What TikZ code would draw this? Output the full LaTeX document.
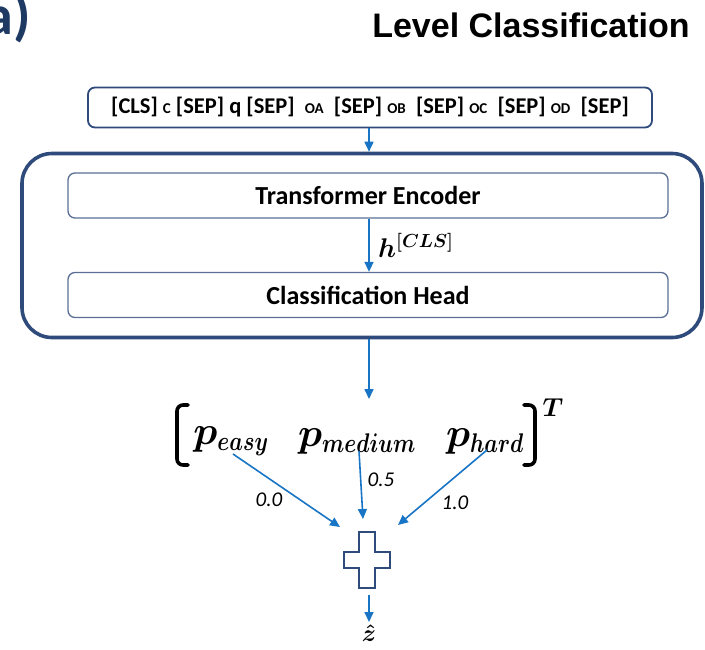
\RequirePackage{fix-cm}
\documentclass[tikz,border=0pt]{standalone}
\usepackage{fontspec}
\setmainfont{Carlito}
\newfontfamily\headfont{Liberation Sans}
\usepackage{amsmath,bm}
\usetikzlibrary{arrows.meta}

\definecolor{navy}{HTML}{2F4B7C}
\definecolor{deepnavy}{HTML}{1E3A62}
\definecolor{flow}{HTML}{1874C4}

\tikzset{
  tokenbox/.style={draw=navy, line width=1.8pt, rounded corners=7pt, fill=white,
    minimum width=564pt, minimum height=40pt, inner sep=0pt},
  modelbox/.style={draw=navy, line width=3.6pt, rounded corners=30pt,
    minimum width=680pt, minimum height=184pt, inner sep=0pt},
  layerbox/.style={draw=navy!80, line width=1.3pt, rounded corners=7pt, fill=white,
    minimum width=600pt, minimum height=45pt, inner sep=0pt,
    font=\fontsize{26}{30}\selectfont\bfseries},
  flowarrow/.style={draw=flow, line width=1.6pt, -{Triangle[length=10pt,width=9pt]}},
  weight/.style={font=\fontsize{21}{24}\selectfont\itshape, inner sep=0pt},
  prob/.style={inner sep=0pt, font=\fontsize{40}{44}\selectfont\boldmath},
}

% small-cap sized token letters and probability symbols
\newcommand{\tok}[1]{{\fontsize{15}{15}\selectfont #1}}
\newcommand{\pv}[1]{p_{\scalebox{0.8}[1]{\fontsize{27}{27}\selectfont\boldmath$#1$}}}

\begin{document}
\begin{tikzpicture}[x=1pt, y=-1pt]
\useasboundingbox (0,0) rectangle (705,649);
\clip (0,0) rectangle (705,649);

% panel tag and title
\node[anchor=base east, text=deepnavy, font=\fontsize{56}{60}\selectfont\bfseries, inner sep=0pt]
  (tag) at (31,34) {a)};
\node[anchor=base, font=\headfont\fontsize{34}{38}\selectfont\bfseries, inner sep=0pt]
  (title) at (531,37) {Level Classification};

% input sequence
\node[tokenbox, font=\fontsize{22.5}{26}\selectfont\bfseries] (input) at (370,107.5)
  {[CLS] \tok{C} [SEP] q [SEP]\ \ \tok{OA}\ \ [SEP] \tok{OB}\ \ [SEP] \tok{OC}\ \ [SEP] \tok{OD}\ \ [SEP]};

% model
\node[modelbox] (model) at (362,245.5) {};
\node[layerbox] (encoder) at (368,195.5) {Transformer Encoder};
\node[layerbox] (head) at (368,295) {Classification Head};

\draw[flowarrow] (input.south -| 369,0) -- (model.north -| 369,0);
\draw[flowarrow] (encoder.south -| 369,0) -- (head.north -| 369,0)
  node[midway, right=5pt, font=\fontsize{27}{30}\selectfont\boldmath] (hcls) {$h^{[CLS]}$};

% output probability vector
\coordinate (vectop) at (369,399);
\draw[flowarrow] (model.south -| 369,0) -- (vectop);

\draw[line width=3.6pt, line cap=round, rounded corners=6pt] (188,405) -- (177,405) -- (177,465) -- (188,465);
\draw[line width=3.6pt, line cap=round, rounded corners=6pt] (524,405) -- (535,405) -- (535,465) -- (524,465);
\node[inner sep=0pt, font=\fontsize{26}{28}\selectfont\boldmath] (trans) at (553,408) {$T$};

\node[prob] (peasy) at (231,441) {$\pv{easy}$};
\node[prob] (pmed) at (357,441) {$\pv{medium}$};
\node[prob] (phard) at (485,441) {$\pv{hard}$};

% weighted sum
\coordinate (inL) at (340,527);
\coordinate (inM) at (363,519);
\coordinate (inR) at (398,525);
\coordinate (peasyout) at (233,454);
\coordinate (pmedout) at (359,451);
\coordinate (phardout) at (487,450);

\draw[flowarrow] (peasyout) -- (inL);
\draw[flowarrow] (pmedout) -- (inM);
\draw[flowarrow] (phardout) -- (inR);

\node[weight] (w0) at (269,500) {0.0};
\node[weight] (w5) at (381,480) {0.5};
\node[weight] (w1) at (455,503) {1.0};

\node[minimum width=47pt, minimum height=56pt, inner sep=0pt] (sum) at (367,560) {};
\draw[navy, line width=2pt, line join=miter]
  (359,532) -- (375,532) -- (375,552) -- (390,552) -- (390,568) -- (375,568)
  -- (375,588) -- (359,588) -- (359,568) -- (344,568) -- (344,552) -- (359,552) -- cycle;

\node[anchor=north, inner sep=0pt, font=\fontsize{24}{26}\selectfont\boldmath] (zhat) at (369,625) {$\hat{z}$};
\draw[flowarrow] (369,595) -- ([yshift=3pt]zhat.north);
\end{tikzpicture}
\end{document}
